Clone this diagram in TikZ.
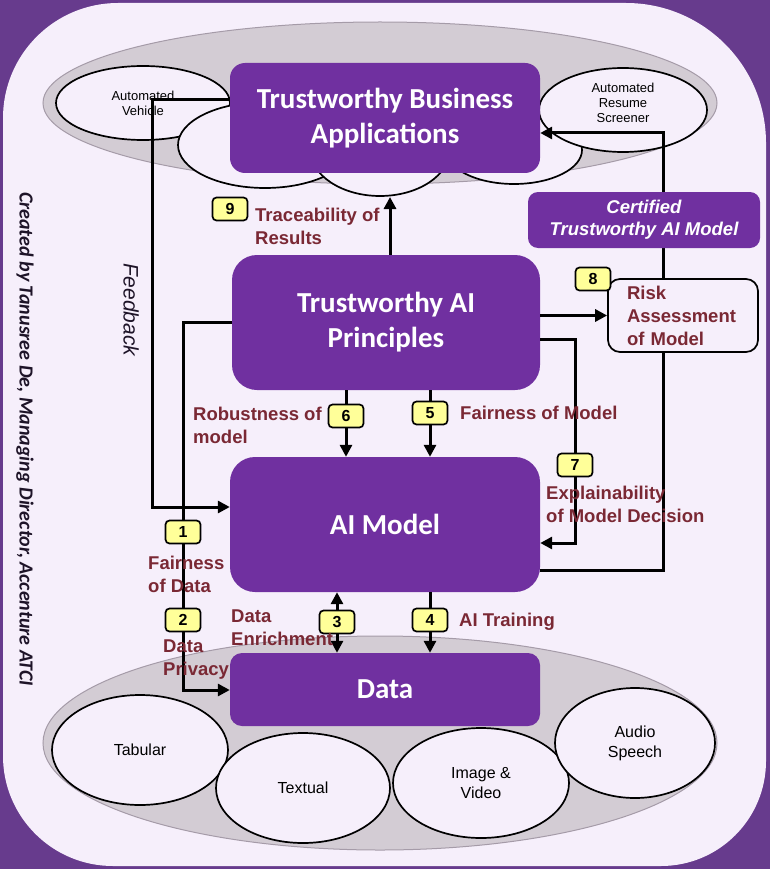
\documentclass[tikz,border=0pt]{standalone}
\usepackage{fontspec}
\setmainfont{Liberation Sans}
\newfontfamily\calibri{Carlito}
\usepackage{tikz}
\usetikzlibrary{shapes.geometric,arrows.meta}
\definecolor{fundo}{RGB}{103,59,141}
\definecolor{claro}{RGB}{246,239,251}
\definecolor{roxo}{RGB}{112,48,160}
\definecolor{cinza}{RGB}{211,204,212}
\definecolor{borda}{RGB}{165,155,168}
\definecolor{vinho}{RGB}{122,40,52}
\definecolor{amarelo}{RGB}{255,255,153}
\definecolor{escuro}{RGB}{30,20,40}
\begin{document}
\begin{tikzpicture}[x=1pt,y=-1pt,
		caixa/.style={rectangle, fill=roxo, text=white, align=center, inner sep=0pt, font=\calibri\bfseries\fontsize{29}{35}\selectfont},
		bolha/.style={ellipse, draw, line width=1.7pt, fill=claro, inner sep=0pt, align=center},
		numero/.style={rectangle, rounded corners=4pt, draw, line width=1.7pt, fill=amarelo, minimum width=35pt, minimum height=23pt, inner sep=0pt, font=\bfseries\fontsize{16}{16}\selectfont},
		rotulo/.style={text=vinho, align=left, anchor=west, inner sep=0pt, font=\bfseries\fontsize{18.5}{23}\selectfont},
		seta/.style={line width=3pt, -{Triangle[length=12pt,width=12pt]}},
		linha/.style={line width=3pt}] %Início do diagrama
					%Fundo
				\useasboundingbox (0,0) rectangle (770,869);
				\fill[fundo] (0,0) rectangle (770,869);
				\fill[claro] (3,118) arc[start angle=180, end angle=270, radius=115] -- (626,3) arc[start angle=270, end angle=360, radius=140] -- (766,761) arc[start angle=0, end angle=90, radius=105] -- (113,866) arc[start angle=90, end angle=180, radius=110] -- cycle;
				\filldraw[fill=cinza, draw=borda, line width=1pt] (380,103) ellipse [x radius=337, y radius=81]; %Elipse das aplicações
				\filldraw[fill=cinza, draw=borda, line width=1pt] (380,743) ellipse [x radius=337, y radius=107]; %Elipse dos dados
					%Aplicações
				\node[bolha, minimum width=174pt, minimum height=74pt, font=\fontsize{13}{15}\selectfont] (veiculo) at (143,103) {Automated\\Vehicle};
				\node[bolha, minimum width=174pt, minimum height=86pt] (oculta1) at (265,145) {};
				\node[bolha, minimum width=140pt, minimum height=94pt] (oculta2) at (380,149) {};
				\node[bolha, minimum width=136pt, minimum height=68pt] (oculta3) at (514,150) {};
				\node[bolha, minimum width=168pt, minimum height=84pt, text depth=15pt, font=\fontsize{13}{15}\selectfont] (triagem) at (623,110) {Automated\\Resume\\Screener};
					%Tipos de dados
				\node[bolha, minimum width=176pt, minimum height=110pt, font=\fontsize{16}{20}\selectfont] (tabular) at (140,750) {Tabular};
				\node[bolha, minimum width=174pt, minimum height=110pt, font=\fontsize{16}{20}\selectfont] (textual) at (303,788) {Textual};
				\node[bolha, minimum width=176pt, minimum height=110pt, font=\fontsize{16}{20}\selectfont] (imagem) at (481,783) {Image \&\\Video};
				\node[bolha, minimum width=160pt, minimum height=110pt, font=\fontsize{16}{20}\selectfont] (audio) at (635,743) {Audio\\Speech};
					%Caixas principais
				\node[caixa, rounded corners=15pt, minimum width=310pt, minimum height=110pt] (negocio) at (385,118) {Trustworthy Business\\Applications};
				\node[caixa, rounded corners=25pt, minimum width=308pt, minimum height=135pt] (principios) at (386,322.5) {Trustworthy AI\\Principles};
				\node[caixa, rounded corners=25pt, minimum width=310pt, minimum height=135pt] (modelo) at (385,524.5) {AI Model};
				\node[caixa, rounded corners=12pt, minimum width=310pt, minimum height=73pt] (dados) at (385,689.5) {Data};
					%Retornos
				\coordinate (k1) at (663,570);
				\coordinate (k2) at (663,133);
				\draw[seta] (modelo.east |- k1) -- (k1) -- (k2) -- (negocio.east |- k2); %Modelo certificado
				\coordinate (f1) at (152,100);
				\coordinate (f2) at (152,507);
				\draw[seta] (negocio.west |- f1) -- (f1) -- (f2) -- (modelo.west |- f2); %Feedback
				\node[draw, line width=1.7pt, rounded corners=12pt, fill=claro, text=vinho, font=\bfseries\fontsize{18.5}{23}\selectfont, text width=112pt, inner xsep=19pt, inner ysep=0pt, minimum height=73pt, align=left] (risco) at (683,315.5) {Risk\\Assessment\\of Model};
				\node[caixa, rounded corners=10pt, minimum width=232pt, minimum height=56pt, font=\bfseries\itshape\fontsize{18.5}{22}\selectfont] (certificado) at (644,220) {Certified\\Trustworthy AI Model};
					%Etapas numeradas
				\node[numero] (n1) at (183,532) {1};
				\node[numero] (n2) at (183,620) {2};
				\node[numero] (n3) at (337,622) {3};
				\node[numero] (n4) at (430,620) {4};
				\node[numero] (n5) at (430,413) {5};
				\node[numero] (n6) at (346,416) {6};
				\node[numero] (n7) at (575,465) {7};
				\node[numero] (n8) at (593,279) {8};
				\node[numero] (n9) at (230,209) {9};
					%Conectores
				\coordinate (d1) at (183,322);
				\coordinate (d2) at (183,690);
				\draw[linha] (principios.west |- d1) -- (d1) -- (n1); %Justiça dos dados
				\draw[linha] (n1) -- (n2);
				\draw[seta] (n2) -- (d2) -- (dados.west |- d2); %Privacidade
				\draw[seta] (n3) -- (n3 |- modelo.south); %Enriquecimento
				\draw[seta] (n3) -- (n3 |- dados.north);
				\draw[linha] (n4 |- modelo.south) -- (n4); %Treinamento
				\draw[seta] (n4) -- (n4 |- dados.north);
				\draw[linha] (n5 |- principios.south) -- (n5); %Justiça do modelo
				\draw[seta] (n5) -- (n5 |- modelo.north);
				\draw[linha] (n6 |- principios.south) -- (n6); %Robustez
				\draw[seta] (n6) -- (n6 |- modelo.north);
				\coordinate (e1) at (575,339);
				\coordinate (e2) at (575,543);
				\draw[linha] (principios.east |- e1) -- (e1) -- (n7); %Explicabilidade
				\draw[seta] (n7) -- (e2) -- (modelo.east |- e2);
				\draw[seta] (principios.east |- risco.west) -- (risco.west); %Risco
				\coordinate (t9) at (390,197);
				\draw[seta] (t9 |- principios.north) -- (t9); %Rastreabilidade
					%Rótulos
				\node[rotulo] (lrob) at (193,425) {Robustness of\\model};
				\node[rotulo] (lfm) at (460,413) {Fairness of Model};
				\node[rotulo] (lexp) at (546,504) {Explainability\\of Model Decision};
				\node[rotulo] (lfd) at (148,574) {Fairness\\of Data};
				\node[rotulo] (ldp) at (163,660) {Data\\Privacy};
				\node[rotulo] (lde) at (231,628) {Data\\Enrichment};
				\node[rotulo] (lait) at (459,622) {AI Training};
				\node[rotulo] (ltr) at (255,226) {Traceability of\\Results};
				\node[rotate=-90, text=escuro, inner sep=0pt, font=\itshape\fontsize{21}{21}\selectfont] (lfb) at (131,310) {Feedback};
				\node[rotate=-90, text=escuro, inner sep=0pt, font=\calibri\bfseries\itshape\fontsize{20}{20}\selectfont] (autor) at (25,439) {Created by Tanusree De, Managing Director, Accenture ATCI};
			\end{tikzpicture}
\end{document}
